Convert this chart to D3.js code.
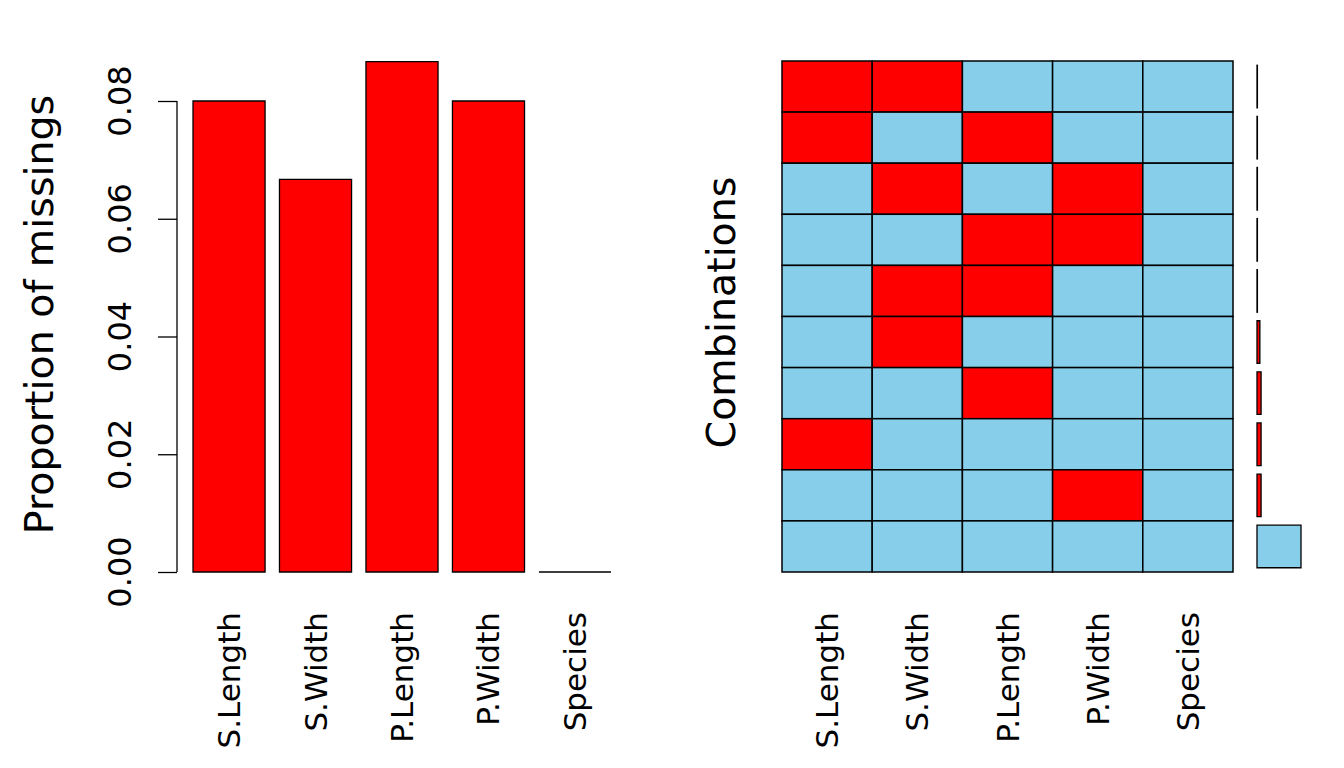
<!DOCTYPE html>
<html>
<head>
<meta charset="utf-8">
<script src="https://cdn.jsdelivr.net/npm/d3@7"></script>
<style>
html,body{margin:0;padding:0;background:#fff;}
text{font-family:"DejaVu Sans",sans-serif;fill:#000;}
</style>
</head>
<body>
<svg id="chart" width="1344" height="768"></svg>
<script>
// ---- data ----
const variables = ["S.Length", "S.Width", "P.Length", "P.Width", "Species"];
const propMissing = [0.08, 0.0667, 0.0867, 0.08, 0];
const yTicks = [0, 0.02, 0.04, 0.06, 0.08];
const yTickLabels = ["0.00", "0.02", "0.04", "0.06", "0.08"];
// combinations, top to bottom: 1 = missing, 0 = observed
const combS_Length = [1, 1, 0, 0, 0, 0, 0, 1, 0, 0];
const combS_Width  = [1, 0, 1, 0, 1, 1, 0, 0, 0, 0];
const combP_Length = [0, 1, 0, 1, 1, 0, 1, 0, 0, 0];
const combP_Width  = [0, 0, 1, 1, 0, 0, 0, 0, 1, 0];
const combSpecies  = [0, 0, 0, 0, 0, 0, 0, 0, 0, 0];
const combCounts   = [1, 1, 1, 1, 1, 7, 10, 10, 10, 108];
const yTitle = "Proportion of missings";
const combTitle = "Combinations";

const RED = "#FF0000", BLUE = "#87CEEB";
const svg = d3.select("#chart");
const tickFont = 32, nameFont = 31, titleFont = 39.5;

// closed rectangle path (so zero-size bars still show their outline)
function rectPath(x, y, w, h) {
  const p = d3.path();
  p.moveTo(x, y); p.lineTo(x + w, y); p.lineTo(x + w, y + h); p.lineTo(x, y + h); p.closePath();
  return p.toString();
}

// ---- left panel: proportion of missings ----
const xL = d3.scaleBand().domain(variables).range([185.8, 618.2])
  .paddingInner(0.2 / 1.2).paddingOuter(0.1 / 1.2);
const yL = d3.scaleLinear().domain([0, 0.08]).range([572, 101]);

svg.append("g").selectAll("path").data(variables).join("path")
  .attr("d", (d, i) => rectPath(xL(d), yL(propMissing[i]), xL.bandwidth(), yL(0) - yL(propMissing[i])))
  .attr("fill", RED).attr("stroke", "#000").attr("stroke-width", 1.3);

// y axis
const yAxisG = svg.append("g").attr("transform", "translate(177,0)")
  .call(d3.axisLeft(yL).tickValues(yTicks).tickSize(19).tickFormat(""));
yAxisG.select(".domain").attr("d", `M0,${yL(0)}V${yL(0.08)}`).attr("stroke", "#000").attr("stroke-width", 1.3);
yAxisG.selectAll(".tick line").attr("stroke", "#000").attr("stroke-width", 1.3).attr("x2", -19);

svg.append("g").selectAll("text").data(yTicks).join("text")
  .attr("transform", (d) => `translate(131,${yL(d)}) rotate(-90)`)
  .attr("text-anchor", "middle")
  .style("font-size", tickFont + "px")
  .text((d, i) => yTickLabels[i]);

svg.append("text")
  .attr("transform", `translate(52.5,314.5) rotate(-90)`)
  .attr("text-anchor", "middle")
  .style("font-size", titleFont + "px")
  .text(yTitle);

svg.append("g").selectAll("text").data(variables).join("text")
  .attr("transform", d => `translate(${xL(d) + xL.bandwidth() / 2 + 11},612) rotate(-90)`)
  .attr("text-anchor", "end")
  .style("font-size", nameFont + "px")
  .text(d => d);

// ---- right panel: combinations ----
const combCols = [combS_Length, combS_Width, combP_Length, combP_Width, combSpecies];
const rows = d3.range(combCounts.length);
const xR = d3.scaleBand().domain(variables).range([782, 1233]);
const yR = d3.scaleBand().domain(rows).range([61, 572]);

const cells = [];
rows.forEach(r => variables.forEach((v, c) => cells.push({r, v, miss: combCols[c][r]})));
svg.append("g").selectAll("rect").data(cells).join("rect")
  .attr("x", d => xR(d.v)).attr("y", d => yR(d.r))
  .attr("width", xR.bandwidth()).attr("height", yR.bandwidth())
  .attr("fill", d => d.miss ? RED : BLUE)
  .attr("stroke", "#000").attr("stroke-width", 1.5);

svg.append("g").selectAll("text").data(variables).join("text")
  .attr("transform", d => `translate(${xR(d) + xR.bandwidth() / 2 + 11},612) rotate(-90)`)
  .attr("text-anchor", "end")
  .style("font-size", nameFont + "px")
  .text(d => d);

svg.append("text")
  .attr("transform", `translate(734.5,312.5) rotate(-90)`)
  .attr("text-anchor", "middle")
  .style("font-size", titleFont + "px")
  .text(combTitle);

// frequency bars
const yB = d3.scaleBand().domain(rows).range([61, 572]).paddingInner(0.2 / 1.2).paddingOuter(0.1 / 1.2);
const xB = d3.scaleLinear().domain([0, d3.max(combCounts)]).range([1257, 1301]);
svg.append("g").selectAll("path").data(rows).join("path")
  .attr("d", r => rectPath(xB(0), yB(r), xB(combCounts[r]) - xB(0), yB.bandwidth()))
  .attr("fill", r => r === rows.length - 1 ? BLUE : RED)
  .attr("stroke", "#000").attr("stroke-width", 1.3);
</script>
</body>
</html>
